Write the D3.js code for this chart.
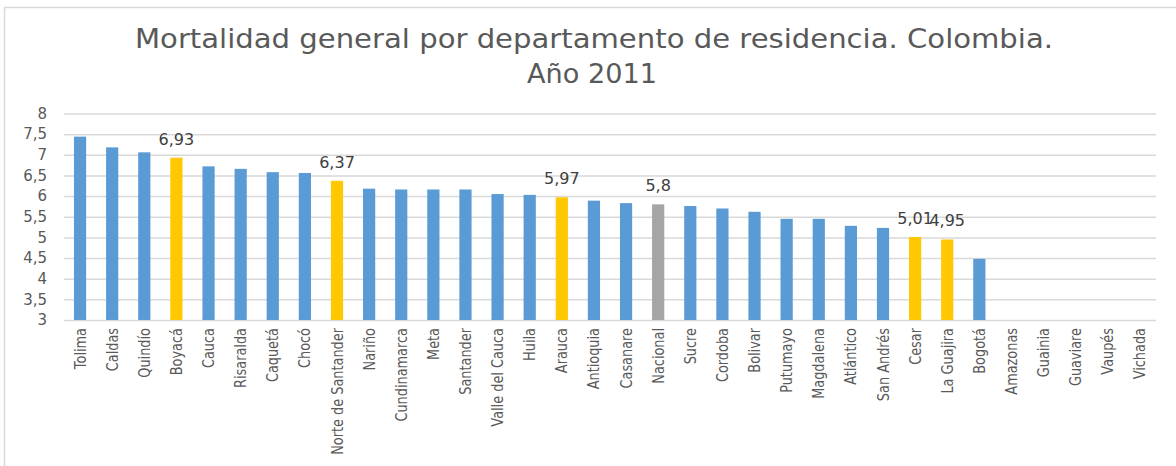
<!DOCTYPE html>
<html>
<head>
<meta charset="utf-8">
<script src="https://cdn.jsdelivr.net/npm/d3@7"></script>
<style>
	body { margin: 0; background: #fff; }
	svg { display: block; }
	text { font-family: "DejaVu Sans", sans-serif; }
</style>
</head>
<body>
<svg></svg>
<script>
const departamentos = ["Tolima", "Caldas", "Quindío", "Boyacá", "Cauca", "Risaralda", "Caquetá", "Chocó",
	"Norte de Santander", "Nariño", "Cundinamarca", "Meta", "Santander", "Valle del Cauca", "Huila", "Arauca",
	"Antioquia", "Casanare", "Nacional", "Sucre", "Cordoba", "Bolivar", "Putumayo", "Magdalena", "Atlántico",
	"San Andrés", "Cesar", "La Guajira", "Bogotá", "Amazonas", "Guainia", "Guaviare", "Vaupés", "Vichada"]
const tasas = [7.44, 7.18, 7.06, 6.93, 6.72, 6.66, 6.58, 6.56, 6.37, 6.18, 6.16, 6.16, 6.16, 6.05, 6.03, 5.97,
	5.89, 5.83, 5.8, 5.76, 5.70, 5.62, 5.45, 5.45, 5.28, 5.23, 5.01, 4.95, 4.48, null, null, null, null, null]
// departamentos resaltados (con etiqueta) y el total nacional
const resaltados = ["Boyacá", "Norte de Santander", "Arauca", "Cesar", "La Guajira"]
const nacional = "Nacional"
const yTicks = [3, 3.5, 4, 4.5, 5, 5.5, 6, 6.5, 7, 7.5, 8]

const width = 1176
const height = 466
const margin = {left: 64, right: 20, top: 113.5, bottom: 146}

const svg = d3.select('svg').attr('width', width).attr('height', height)

const data = departamentos.map((d, i) => ({name: d, value: tasas[i]}))

const x = d3.scaleBand()
	.domain(departamentos)
	.range([margin.left, width - margin.right])
	.paddingInner(0.62)
	.paddingOuter(0.31)
const y = d3.scaleLinear()
	.domain([3, 8])
	.range([height - margin.bottom, margin.top])

const fmt = v => String(v).replace('.', ',')

// marco del grafico
svg.append('rect')
	.attr('x', 4.5).attr('y', 7.5)
	.attr('width', 1300).attr('height', 600)
	.attr('fill', 'none')
	.attr('stroke', '#d9d9d9')
	.attr('stroke-width', 1.5)

// titulo
const title = svg.append('text')
	.attr('text-anchor', 'middle')
	.attr('fill', '#595959')
	.attr('font-size', 27)
	.attr('font-family', 'Lato, sans-serif')
	.attr('font-weight', 400)
title.append('tspan')
	.attr('x', 594).attr('y', 48)
	.attr('textLength', 918).attr('lengthAdjust', 'spacingAndGlyphs')
	.text('Mortalidad general por departamento de residencia. Colombia.')
title.append('tspan')
	.attr('x', 592).attr('y', 83)
	.attr('textLength', 130).attr('lengthAdjust', 'spacingAndGlyphs')
	.text('Año 2011')

// lineas de cuadricula + eje y
const yAxis = svg.append('g')
	.attr('transform', `translate(${margin.left},0)`)
	.call(d3.axisLeft(y).tickValues(yTicks).tickSize(-(width - margin.left - margin.right)).tickFormat(fmt))
yAxis.select('.domain').remove()
yAxis.selectAll('line').attr('stroke', '#d9d9d9').attr('stroke-width', 1.5)
yAxis.selectAll('text')
	.attr('x', -17)
	.attr('fill', '#595959')
	.attr('font-size', 15)
	.attr('font-family', '"DejaVu Sans", sans-serif')

// barras
svg.selectAll('rect.bar')
	.data(data.filter(d => d.value != null))
	.join('rect')
		.attr('class', 'bar')
		.attr('x', d => x(d.name))
		.attr('width', x.bandwidth())
		.attr('y', d => y(d.value))
		.attr('height', d => y(3) - y(d.value))
		.attr('fill', d => d.name == nacional ? '#a5a5a5' : resaltados.indexOf(d.name) > -1 ? '#ffc800' : '#5b9bd5')

// etiquetas de valor
svg.selectAll('text.valor')
	.data(data.filter(d => d.name == nacional || resaltados.indexOf(d.name) > -1))
	.join('text')
		.attr('class', 'valor')
		.attr('x', d => x(d.name) + x.bandwidth() / 2)
		.attr('y', d => y(d.value) - 13)
		.attr('text-anchor', 'middle')
		.attr('fill', '#404040')
		.attr('font-size', 16)
		.text(d => fmt(d.value))

// etiquetas del eje x (verticales)
svg.selectAll('text.cat')
	.data(departamentos)
	.join('text')
		.attr('class', 'cat')
		.attr('transform', d => `translate(${x(d) + x.bandwidth() / 2 + 5.5},${y(3) + 8}) rotate(-90) scale(0.86,1)`)
		.attr('text-anchor', 'end')
		.attr('fill', '#595959')
		.attr('font-size', 15)
		.text(d => d)
</script>
</body>
</html>
